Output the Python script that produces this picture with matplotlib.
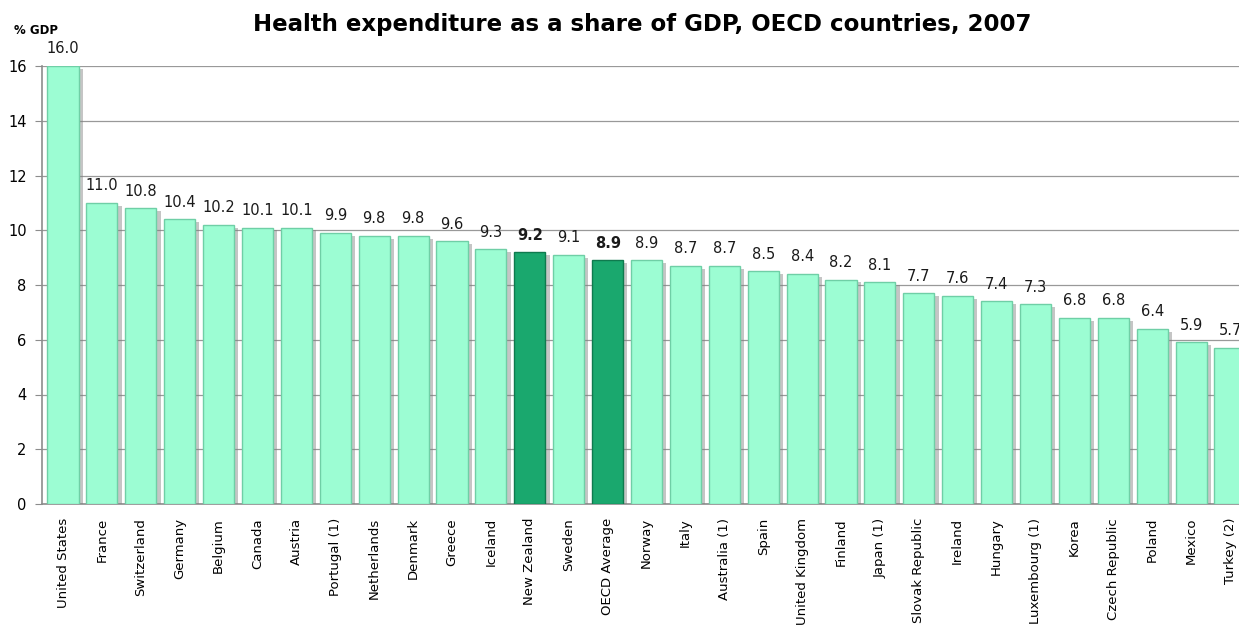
import numpy as np
import matplotlib
matplotlib.use("Agg")
import matplotlib.pyplot as plt
import matplotlib.patheffects as pe

COUNTRIES = ["United States", "France", "Switzerland", "Germany", "Belgium", "Canada",
             "Austria", "Portugal (1)", "Netherlands", "Denmark", "Greece", "Iceland",
             "New Zealand", "Sweden", "OECD Average", "Norway", "Italy", "Australia (1)",
             "Spain", "United Kingdom", "Finland", "Japan (1)", "Slovak Republic", "Ireland",
             "Hungary", "Luxembourg (1)", "Korea", "Czech Republic", "Poland", "Mexico",
             "Turkey (2)"]
VALUES = [16.0, 11.0, 10.8, 10.4, 10.2, 10.1, 10.1, 9.9, 9.8, 9.8, 9.6, 9.3, 9.2, 9.1,
          8.9, 8.9, 8.7, 8.7, 8.5, 8.4, 8.2, 8.1, 7.7, 7.6, 7.4, 7.3, 6.8, 6.8, 6.4, 5.9, 5.7]
HIGHLIGHT = ["New Zealand", "OECD Average"]
YTICKS = [0, 2, 4, 6, 8, 10, 12, 14, 16]

LIGHT = "#9cfdd3"
LIGHT_EDGE = "#6fcfa6"
DARK = "#1aa86e"
DARK_EDGE = "#0f7a4e"
GRID = "#8c8c8c"

fig = plt.figure(figsize=(12.39, 6.41), dpi=100)
ax = fig.add_axes([42 / 1239, 1 - 504 / 641, 1 - 42 / 1239, (504 - 66) / 641])

x = np.arange(len(COUNTRIES))
colors = [DARK if c in HIGHLIGHT else LIGHT for c in COUNTRIES]
edges = [DARK_EDGE if c in HIGHLIGHT else LIGHT_EDGE for c in COUNTRIES]
bars = ax.bar(x, VALUES, width=0.8, color=colors, edgecolor=edges, linewidth=1.0, zorder=3)
for b in bars:
    b.set_path_effects([pe.SimplePatchShadow(offset=(3, -2), shadow_rgbFace="#808080", alpha=0.45),
                        pe.Normal()])

for xi, v, c in zip(x, VALUES, COUNTRIES):
    ax.text(xi, v + 0.35, f"{v:.1f}", ha="center", va="bottom", fontsize=10.5,
            fontweight="bold" if c in HIGHLIGHT else "normal", color="#1a1a1a", zorder=4)

ax.set_xlim(-0.54, 30.23)
ax.set_ylim(0, 16)
ax.set_yticks(YTICKS)
ax.set_yticklabels([str(t) for t in YTICKS], fontsize=10.5)
ax.set_xticks(x)
ax.set_xticklabels(COUNTRIES, rotation=90, fontsize=9.5)
ax.tick_params(axis="x", length=0, pad=10)
ax.tick_params(axis="y", length=5, color=GRID, pad=6)
ax.grid(True, axis="y", color="#999999", linewidth=0.9, zorder=0)
for s in ["top", "right"]:
    ax.spines[s].set_visible(False)
for s in ["left", "bottom"]:
    ax.spines[s].set_color(GRID)
    ax.spines[s].set_linewidth(1.2)

fig.text(0.518, 1 - 24 / 641, "Health expenditure as a share of GDP, OECD countries, 2007",
         ha="center", va="center", fontsize=16.5, fontweight="bold")
fig.text(14 / 1239, 1 - 30 / 641, "% GDP", ha="left", va="center", fontsize=8.5, fontweight="bold")

fig.savefig("out.png", dpi=100)
